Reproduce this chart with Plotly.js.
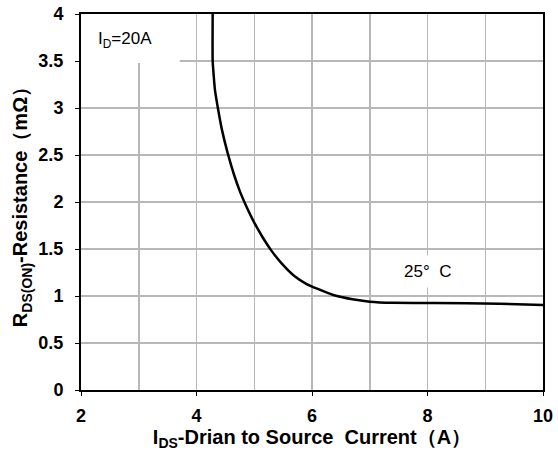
<!DOCTYPE html>
<html>
<head>
<meta charset="utf-8">
<script src="https://cdn.plot.ly/plotly-3.0.1.min.js"></script>
<style>html,body{margin:0;padding:0;background:#fff;}#chart{width:558px;height:454px;}</style>
</head>
<body>
<div id="chart"></div>
<script>
// Drain-source current (A)
const currentA = [4.28, 4.28, 4.30, 4.32, 4.37, 4.44, 4.54, 4.65, 4.76, 4.88, 5.00, 5.15, 5.30, 5.47, 5.70, 5.90, 6.10, 6.37, 6.70, 7.00, 7.40, 8.10, 9.25, 10.0];
// On-resistance (mOhm) at 25 C
const resistance = [4.00, 3.50, 3.33, 3.19, 3.00, 2.77, 2.52, 2.29, 2.10, 1.93, 1.78, 1.62, 1.48, 1.35, 1.21, 1.13, 1.075, 1.01, 0.965, 0.94, 0.927, 0.925, 0.918, 0.905];
const xTickVals = [2, 4, 6, 8, 10];
const yTickVals = [0, 0.5, 1, 1.5, 2, 2.5, 3, 3.5, 4];
const yTickText = ['0', '0.5', '1', '1.5', '2', '2.5', '3', '3.5', '4'];

const trace = {
  x: currentA, y: resistance, type: 'scatter', mode: 'lines',
  line: {color: '#000', width: 2.5, shape: 'spline', smoothing: 0.5},
  hoverinfo: 'skip', showlegend: false
};

const FONT = 'Arial, Liberation Sans, sans-serif';
const tickFont = {family: FONT, size: 18, color: '#000', weight: 'bold'};
const layout = {
  width: 558, height: 454,
  margin: {l: 81, r: 15, t: 14, b: 64},
  paper_bgcolor: '#fff', plot_bgcolor: '#fff',
  xaxis: {
    range: [2, 10], tickvals: xTickVals, ticktext: xTickVals.map(String),
    showgrid: false, zeroline: false,
    ticks: 'outside', ticklen: 4, tickwidth: 1, tickcolor: '#000',
    showline: true, linecolor: '#000', linewidth: 2, mirror: true,
    tickfont: tickFont, ticklabelstandoff: 4,
    minor: {dtick: 1, tick0: 2, showgrid: true, gridcolor: '#b8b8b8', gridwidth: 1.5, ticks: ''},
    title: {text: 'I<sub>DS</sub>-Drian to Source  Current（A）', font: {family: FONT, size: 20, color: '#000', weight: 'bold'}, standoff: 3}
  },
  yaxis: {
    range: [0, 4], tickvals: yTickVals, ticktext: yTickText,
    showgrid: true, gridcolor: '#b8b8b8', gridwidth: 1.5, zeroline: false,
    ticks: 'outside', ticklen: 4, tickwidth: 1, tickcolor: '#000',
    showline: true, linecolor: '#000', linewidth: 2, mirror: true,
    tickfont: tickFont, ticklabelstandoff: 8,
    title: {text: 'R<sub>DS(ON)</sub>-Resistance（mΩ）', font: {family: FONT, size: 20, color: '#000', weight: 'bold'}, standoff: 5}
  },
  shapes: [
    {type: 'rect', xref: 'x', yref: 'y', x0: 2, x1: 3.71, y0: 3.48, y1: 4, fillcolor: '#fff', line: {width: 0}, layer: 'between'}
  ],
  annotations: [
    {xref: 'x', yref: 'y', x: 2.26, y: 3.72, xanchor: 'left', yanchor: 'middle', showarrow: false,
     text: 'I<sub>D</sub>=20A', font: {family: FONT, size: 17, color: '#000'}},
    {xref: 'x', yref: 'y', x: 8.0, y: 1.26, xanchor: 'center', yanchor: 'middle', showarrow: false,
     text: '25°\u00a0 C', bgcolor: '#fff', borderpad: 6,
     font: {family: FONT, size: 17, color: '#000'}}
  ]
};
Plotly.newPlot('chart', [trace], layout, {displayModeBar: false, staticPlot: true});
</script>
</body>
</html>
